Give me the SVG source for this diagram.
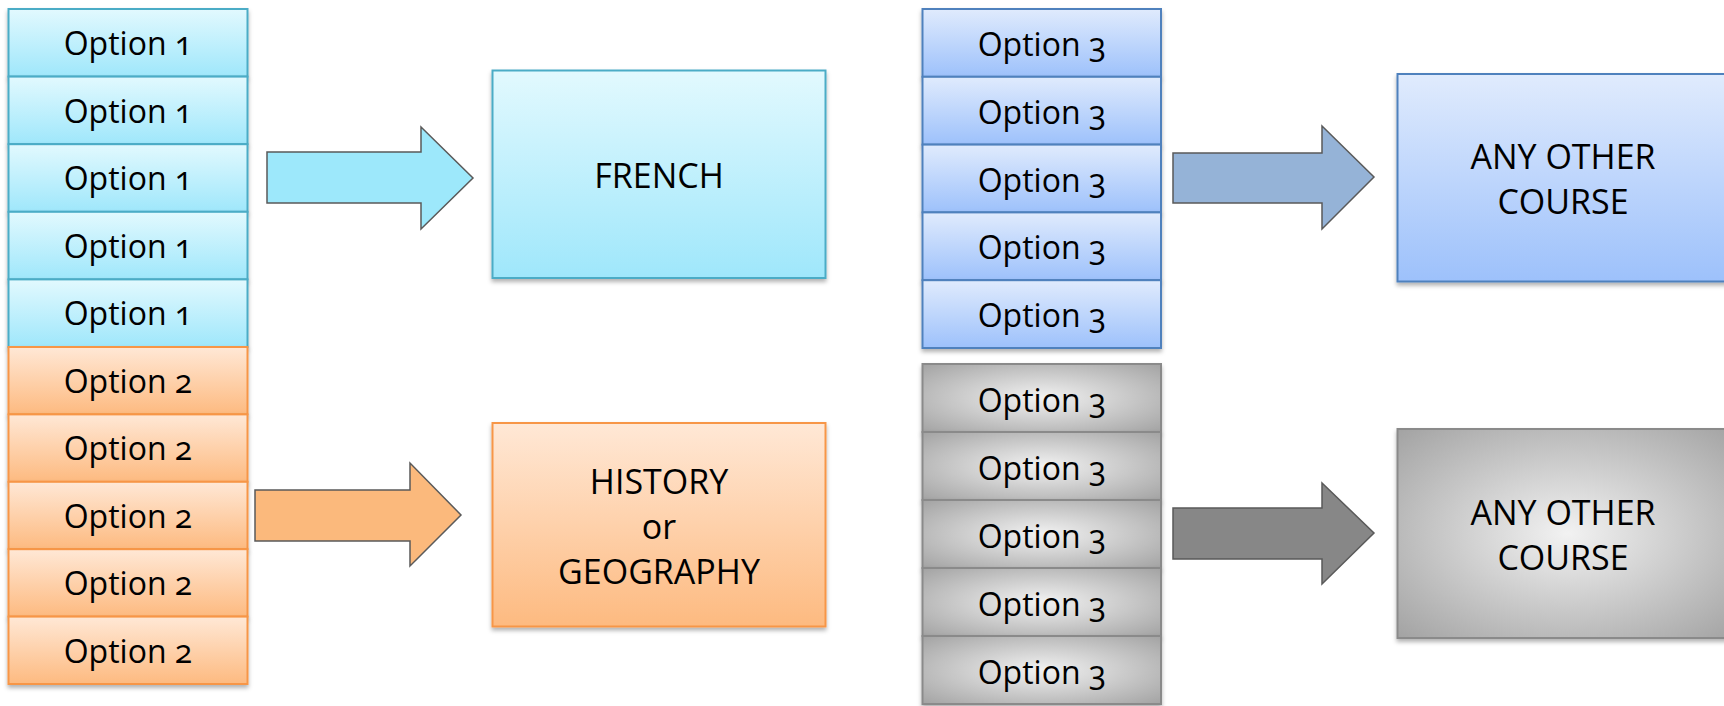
<svg xmlns="http://www.w3.org/2000/svg" width="1724" height="706" viewBox="0 0 1724 706">
<defs>
<linearGradient id="gCyan" x1="0" y1="0" x2="0" y2="1"><stop offset="0" stop-color="#e2f9fe"/><stop offset="1" stop-color="#9fe7fb"/></linearGradient>
<linearGradient id="gOrange" x1="0" y1="0" x2="0" y2="1"><stop offset="0" stop-color="#ffe8d6"/><stop offset="1" stop-color="#fdba80"/></linearGradient>
<linearGradient id="gBlue" x1="0" y1="0" x2="0" y2="1"><stop offset="0" stop-color="#e0ebfd"/><stop offset="1" stop-color="#9dc1fb"/></linearGradient>
<radialGradient id="gGrey" cx="0.5" cy="0.5" r="0.7"><stop offset="0" stop-color="#f2f2f2"/><stop offset="1" stop-color="#a3a3a3"/></radialGradient>
<filter id="sh" x="-5%" y="-10%" width="110%" height="130%"><feDropShadow dx="0" dy="3" stdDeviation="2" flood-color="#000" flood-opacity="0.3"/></filter>
</defs>
<style>
.t{font-family:"Open Sans","Liberation Sans",sans-serif;font-size:32px;fill:#000;text-anchor:middle;font-variant-numeric:oldstyle-nums}
.b{font-family:"Open Sans","Liberation Sans",sans-serif;font-size:34px;fill:#000;text-anchor:middle}
.c1{fill:url(#gCyan);stroke:#4bacc6;stroke-width:2;filter:url(#sh)}
.c2{fill:url(#gOrange);stroke:#f79646;stroke-width:2;filter:url(#sh)}
.c3{fill:url(#gBlue);stroke:#4f81bd;stroke-width:2;filter:url(#sh)}
.c4{fill:url(#gGrey);stroke:#8a8a8a;stroke-width:2;filter:url(#sh)}
.ar{stroke:#5a5a5a;stroke-width:1.5}
</style>

<g id="option1-column">
<rect class="c1" x="8.5" y="9" width="239" height="67.6"/>
<rect class="c1" x="8.5" y="76.6" width="239" height="67.6"/>
<rect class="c1" x="8.5" y="144.2" width="239" height="67.6"/>
<rect class="c1" x="8.5" y="211.8" width="239" height="67.6"/>
<rect class="c1" x="8.5" y="279.4" width="239" height="67.6"/>
<text class="t" x="128" y="55">Option 1</text>
<text class="t" x="128" y="122.6">Option 1</text>
<text class="t" x="128" y="190.2">Option 1</text>
<text class="t" x="128" y="257.8">Option 1</text>
<text class="t" x="128" y="325.4">Option 1</text>
</g>

<g id="option2-column">
<rect class="c2" x="8.5" y="347" width="239" height="67.4"/>
<rect class="c2" x="8.5" y="414.4" width="239" height="67.4"/>
<rect class="c2" x="8.5" y="481.8" width="239" height="67.4"/>
<rect class="c2" x="8.5" y="549.2" width="239" height="67.4"/>
<rect class="c2" x="8.5" y="616.6" width="239" height="67.4"/>
<text class="t" x="128" y="393">Option 2</text>
<text class="t" x="128" y="460.4">Option 2</text>
<text class="t" x="128" y="527.8">Option 2</text>
<text class="t" x="128" y="595.2">Option 2</text>
<text class="t" x="128" y="662.6">Option 2</text>
</g>

<g id="option3-blue-column">
<rect class="c3" x="922.5" y="9" width="238.5" height="67.8"/>
<rect class="c3" x="922.5" y="76.8" width="238.5" height="67.8"/>
<rect class="c3" x="922.5" y="144.6" width="238.5" height="67.8"/>
<rect class="c3" x="922.5" y="212.4" width="238.5" height="67.8"/>
<rect class="c3" x="922.5" y="280.2" width="238.5" height="67.8"/>
<text class="t" x="1042" y="56">Option 3</text>
<text class="t" x="1042" y="123.8">Option 3</text>
<text class="t" x="1042" y="191.6">Option 3</text>
<text class="t" x="1042" y="259.4">Option 3</text>
<text class="t" x="1042" y="327.2">Option 3</text>
</g>

<g id="option3-grey-column">
<rect class="c4" x="922.5" y="364" width="238.5" height="68"/>
<rect class="c4" x="922.5" y="432" width="238.5" height="68"/>
<rect class="c4" x="922.5" y="500" width="238.5" height="68"/>
<rect class="c4" x="922.5" y="568" width="238.5" height="68"/>
<rect class="c4" x="922.5" y="636" width="238.5" height="68"/>
<text class="t" x="1042" y="412">Option 3</text>
<text class="t" x="1042" y="480">Option 3</text>
<text class="t" x="1042" y="548">Option 3</text>
<text class="t" x="1042" y="616">Option 3</text>
<text class="t" x="1042" y="684">Option 3</text>
</g>

<g id="french">
<rect class="c1" x="492.5" y="70.5" width="333" height="207.5"/>
<text class="b" x="659" y="188">FRENCH</text>
</g>

<g id="history-geography">
<rect class="c2" x="492.5" y="423" width="333" height="203.5"/>
<text class="b" x="659" y="494">HISTORY</text>
<text class="b" x="659" y="539">or</text>
<text class="b" x="659" y="584">GEOGRAPHY</text>
</g>

<g id="any-other-course-blue">
<rect class="c3" x="1397.5" y="74" width="340" height="207.5"/>
<text class="b" x="1563" y="169">ANY OTHER</text>
<text class="b" x="1563" y="214">COURSE</text>
</g>

<g id="any-other-course-grey">
<rect class="c4" x="1397.5" y="429" width="340" height="209"/>
<text class="b" x="1563" y="525">ANY OTHER</text>
<text class="b" x="1563" y="570">COURSE</text>
</g>

<g id="connectors">
<polygon class="ar" fill="#9de8fb" points="267,152 421,152 421,127 473,178 421,229 421,203 267,203"/>
<polygon class="ar" fill="#fbb97c" points="255,490 410,490 410,463 461,515 410,566 410,541 255,541"/>
<polygon class="ar" fill="#95b3d7" points="1173,153 1322,153 1322,126 1374,177 1322,229 1322,203 1173,203"/>
<polygon class="ar" fill="#878787" points="1173,508 1322,508 1322,483 1374,533 1322,584 1322,559 1173,559"/>
</g>
</svg>
